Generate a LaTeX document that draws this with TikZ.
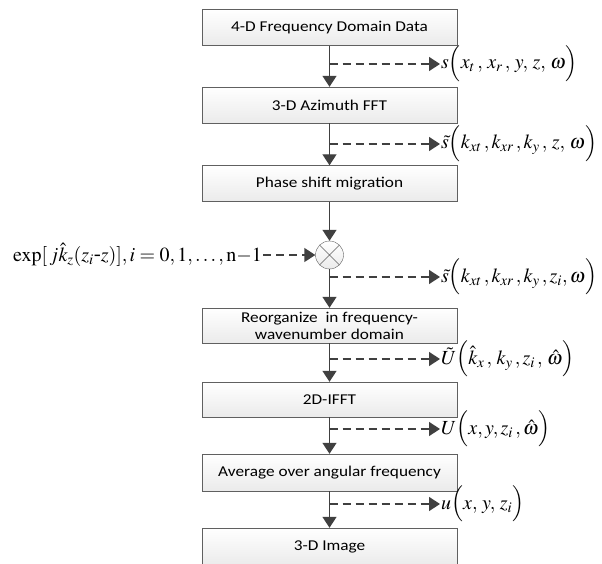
\documentclass[tikz,border=0pt]{standalone}
\usepackage{graphicx}
\usepackage{mathptmx}
\usepackage[no-math]{fontspec}
\setmainfont{Carlito}[FakeStretch=1.15]
\usetikzlibrary{arrows.meta}
\newcommand{\argl}[1]{\Bigl(#1\Bigr)}
\tikzset{
  stage/.style={draw=gray!75!black, top color=white, bottom color=gray!16, minimum width=255pt,
    minimum height=36pt, inner sep=0pt, align=center, font=\fontsize{15}{17}\selectfont},
  flow/.style={-{Triangle[length=11pt,width=14pt]}, draw=black!75, line width=1.4pt},
  branch/.style={flow, dash pattern=on 8pt off 5pt},
  sig/.style={anchor=west, inner sep=1pt, font=\fontsize{20}{22}\selectfont}
}
\begin{document}
\begin{tikzpicture}[x=1pt,y=-1pt]
    \useasboundingbox (0,0) rectangle (602,564);
    % processing chain
    \node(data) at (329.5,27.5) [stage] {4-D Frequency Domain Data};
    \node(fft) at (329.5,105) [stage] {3-D Azimuth FFT};
    \node(psm) at (329.5,183.5) [stage] {Phase shift migration};
    \node(mix) at (329.5,255) [circle, draw=gray!75!black, top color=white, bottom color=gray!16, minimum size=28pt, inner sep=0pt] {};
    \node(reorg) at (329.5,325.5) [stage, minimum height=35pt] {Reorganize\ \ in frequency-\\wavenumber domain};
    \node(ifft) at (329.5,399.5) [stage, minimum height=35pt] {2D-IFFT};
    \node(avg) at (329.5,472.5) [stage, minimum height=37pt] {Average over angular frequency};
    \node(img) at (329.5,547) [stage, minimum height=38pt] {3-D Image};
    \draw[gray!75!black] (mix.north west) -- (mix.south east) (mix.north east) -- (mix.south west);

    % signals
    \node(phase) at (263,255) [anchor=east, inner sep=1pt, font=\fontsize{20}{22}\selectfont]
      {$\exp[\,j\hat{k}_z(z_i\mbox{-}z)],i=0,1,\ldots,\mathrm{n}\mathbf{-}1$};
    \node(s1) at (440,64) [sig] {$s\argl{x_t\,,\,x_r\,,\,y,\,z,\,\omega}$};
    \node(s2) at (440,144) [sig] {$\tilde{s}\argl{k_{xt}\,,k_{xr}\,,k_y\,,\,z,\,\omega}$};
    \node(s3) at (440,277) [sig] {$\tilde{s}\argl{k_{xt}\,,k_{xr}\,,k_y\,,z_i,\omega}$};
    \node(s4) at (440,359) [sig] {$\tilde{U}\argl{\hat{k}_x\,,\,k_y\,,z_i\,,\,\hat{\omega}}$};
    \node(s5) at (440,429) [sig] {$U\argl{x,y,z_i\,,\hat{\omega}}$};
    \node(s6) at (440,504) [sig] {$u\argl{x,\,y,\,z_i}$};

    \coordinate(t1) at (329.5,64);
    \coordinate(t2) at (329.5,144);
    \coordinate(t3) at (329.5,277);
    \coordinate(t4) at (329.5,359);
    \coordinate(t5) at (329.5,429);
    \coordinate(t6) at (329.5,504);

    \draw (data) edge[flow] (fft);
    \draw (fft) edge[flow] (psm);
    \draw (psm) edge[flow] (mix);
    \draw (mix) edge[flow] (reorg);
    \draw (reorg) edge[flow] (ifft);
    \draw (ifft) edge[flow] (avg);
    \draw (avg) edge[flow] (img);

    \draw (phase.east) edge[branch] (mix.west);
    \draw (t1) edge[branch] (s1.west);
    \draw (t2) edge[branch] (s2.west);
    \draw (t3) edge[branch] (s3.west);
    \draw (t4) edge[branch] (s4.west);
    \draw (t5) edge[branch] (s5.west);
    \draw (t6) edge[branch] (s6.west);
  \end{tikzpicture}
\end{document}
